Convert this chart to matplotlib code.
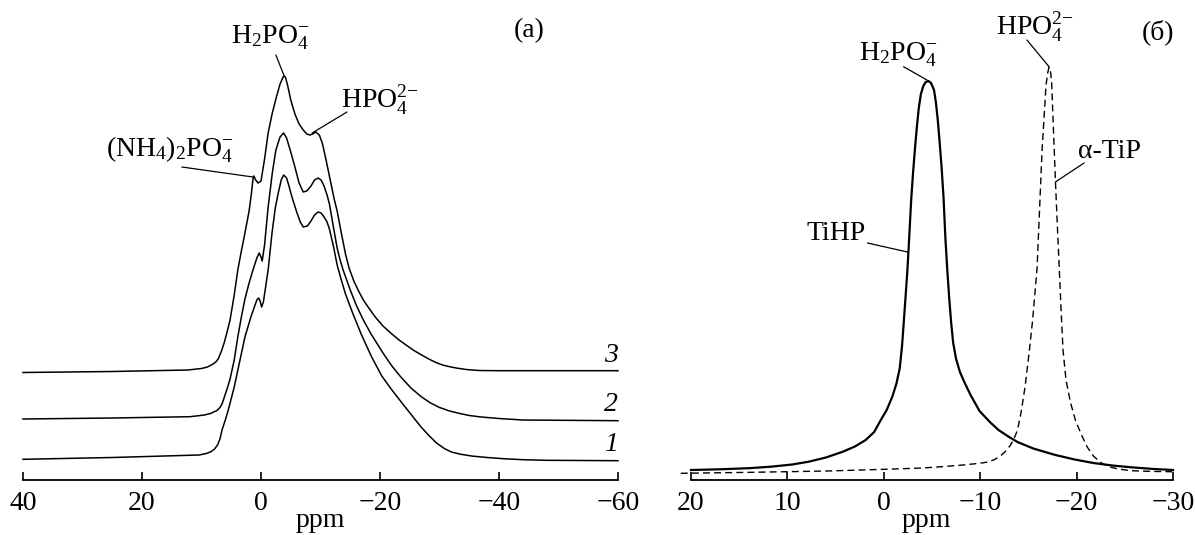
import matplotlib
matplotlib.use("Agg")
import matplotlib.pyplot as plt
import numpy as np

plt.rcParams['font.family'] = ['Liberation Serif', 'DejaVu Serif']
plt.rcParams['mathtext.fontset'] = 'custom'
plt.rcParams['mathtext.rm'] = 'Liberation Serif'
plt.rcParams['mathtext.it'] = 'Liberation Serif:italic'
plt.rcParams['axes.unicode_minus'] = True

# ---------------- Panel (a): stacked 31P spectra 1,2,3 ----------------
a_xticks = [40, 20, 0, -20, -40, -60]
a_offsets = [20, 60, 109]          # vertical offsets of spectra 1, 2, 3
a_labels = ['1', '2', '3']

ppm1 = [40, 25, 10.4, 9.2, 8.4, 7.8, 7.3, 6.9, 6.55, 6.0, 5.5, 4.5, 3.6, 2.7, 1.7,
        1.0, 0.7, 0.4, 0.15, -0.1, -0.4, -0.7, -1.2, -1.85, -2.4, -2.9, -3.4,
        -3.8, -4.3, -4.7, -5.2, -6.0, -6.6, -7.1, -7.8, -8.4, -9.0, -9.6, -10.1,
        -10.6, -11.1, -11.5, -12.2, -12.8, -13.5, -14.2, -15.4, -16.9, -18.6,
        -20.3, -22.0, -23.7, -25.3, -26.9, -28.3, -29.5, -30.8, -32.0, -33.5,
        -35.5, -38.0, -41.0, -44.0, -48.0, -60]
int1 = [0.7, 2.5, 5, 6.5, 8.3, 11, 15, 21, 30, 40, 50, 73, 98, 123, 143,
        155, 160, 162, 159, 153, 158, 170, 190, 227, 252, 267, 280,
        285, 282, 274, 263, 248, 238, 233, 234, 239, 245, 248, 247,
        243, 238, 231, 213, 195, 180, 166, 147, 125, 103,
        84, 70, 57, 45, 33, 24, 17, 11.5, 8, 5.8,
        3.9, 2.5, 1.2, 0.3, -0.3, -0.7]

ppm2 = [40, 25, 11.9, 9.5, 8.5, 7.4, 6.9, 6.55, 6.1, 5.6, 5.2, 4.5, 3.9, 3.3, 2.7,
        2.0, 1.35, 0.7, 0.3, 0.0, -0.2, -0.6, -1.2, -1.9, -2.5, -3.2, -3.8,
        -4.3, -5.0, -5.7, -6.4, -7.1, -7.7, -8.4, -9.0, -9.6, -10.1, -10.6,
        -11.1, -11.5, -12.2, -12.8, -13.3, -13.8, -15.0, -16.0, -17.2, -18.5,
        -20.5, -22.0, -23.5, -25.2, -27.0, -28.5, -30.0, -31.7, -33.4, -35.0,
        -37.0, -40.0, -44.0, -60]
int2 = [1, 2, 3.3, 5, 6.5, 9.5, 12.5, 16, 24, 33, 41, 60, 83, 103, 121,
        137, 150, 162, 167, 163, 159, 175, 213, 247, 270, 283, 287,
        282, 268, 253, 237, 228, 229, 234, 240, 242, 240, 234,
        225, 216, 192, 172, 160, 150, 130, 115, 100, 86,
        67, 54, 43, 32, 23, 17, 12.5, 9, 6.5, 4.5,
        3, 1.5, 0, -0.7]

ppm3 = [40, 25, 12.3, 10.0, 9.0, 8.2, 7.6, 7.2, 6.7, 6.2, 5.7, 5.2, 4.5, 3.9, 3.3,
        2.7, 2.0, 1.6, 1.35, 1.2, 0.9, 0.5, 0.0, -0.6, -1.2, -1.9, -2.5, -3.2,
        -3.8, -4.1, -4.5, -5.0, -5.7, -6.4, -7.1, -7.7, -8.2, -8.7, -9.2, -9.8,
        -10.3, -10.9, -11.6, -12.3, -12.8, -13.5, -14.2, -14.8, -15.6, -16.4,
        -17.2, -18.0, -19.2, -20.5, -21.8, -23.2, -24.5, -25.7, -27.0, -28.2,
        -29.4, -30.5, -31.7, -32.8, -34.5, -36.6, -40.0, -60]
int3 = [-1.5, -0.5, 1, 2.5, 4, 6.5, 9, 12, 19, 28, 39, 51, 76, 101, 120,
        138, 160, 178, 192, 195, 191, 188, 190, 212, 238, 258, 272, 287,
        295, 294, 285, 271, 257, 247, 241, 237, 236, 237, 239, 236,
        228, 212, 192, 172, 160, 138, 117, 103, 90, 80,
        71, 64, 54, 45, 38, 31, 25.5, 20.5, 16, 12,
        8.5, 6, 4.3, 3, 1.5, 0.5, 0.3, 0.3]

# ---------------- Panel (б): TiHP and α-TiP ----------------
b_xticks = [20, 10, 0, -10, -20, -30]

tihp_ppm = [20.0, 17.0, 14.0, 11.72, 9.5, 7.79, 6.0, 4.24, 3.0, 1.88, 1.0, 0.31,
            -0.3, -0.87, -1.3, -1.66, -1.9, -2.05, -2.25, -2.45, -2.65, -2.84,
            -3.04, -3.24, -3.45, -3.63, -3.85, -4.1, -4.35, -4.62, -4.9, -5.21,
            -5.4, -5.6, -5.8, -6.0, -6.2, -6.4, -6.6, -6.8, -7.0, -7.2, -7.5,
            -7.9, -8.35, -9.0, -9.93, -11.0, -11.9, -13.0, -13.87, -15.5, -17.8,
            -19.8, -21.74, -23.7, -25.67, -28.0, -30.0]
tihp_int = [10, 10.7, 11.8, 13.3, 15.5, 18.3, 22.5, 28.3, 33.5, 40, 48, 60,
            70, 83, 96, 112, 135, 155, 182, 210, 245, 280,
            308, 332, 355, 372, 386, 394, 398, 399, 397, 390,
            378, 360, 337, 312, 282, 240, 208, 180, 156, 137, 121,
            108, 98, 85, 69, 58, 50, 43, 38, 31.5, 25,
            20.5, 17, 14.5, 12.7, 11, 10]

atip_ppm = [21.06, 13.69, 5.82, -0.08, -4.0, -6.0, -8.0, -9.93, -10.8, -11.5,
            -12.1, -12.6, -13.08, -13.5, -13.87, -14.25, -14.65, -15.05, -15.44,
            -15.9, -16.42, -16.83, -17.0, -17.14, -17.3, -17.41, -17.6, -17.8,
            -18.0, -18.2, -18.4, -18.59, -18.9, -19.38, -19.9, -20.56, -21.1,
            -21.74, -22.5, -23.32, -24.4, -25.67, -27.7, -29.92]
atip_int = [6.7, 7.7, 9, 10.7, 12, 13.3, 14.8, 16.7, 18, 20.5,
            24, 28.5, 34, 41, 50, 68, 93, 125, 160,
            212, 330, 395, 407, 413, 408, 398, 350, 300,
            255, 212, 168, 130, 100, 77, 59, 44, 33,
            24, 17.5, 13.3, 10.8, 9.3, 8.6, 8.3]

FS = 20
W, H = 1195, 535
fig = plt.figure(figsize=(W / 100, H / 100), dpi=100)

def px_axes(x0, x1, ybot, ytop):
    return fig.add_axes([x0 / W, (H - ybot) / H, (x1 - x0) / W, (ybot - ytop) / H])

def style(ax, ticks):
    for s in ['left', 'right', 'top']:
        ax.spines[s].set_visible(False)
    ax.spines['bottom'].set_linewidth(1.3)
    ax.set_yticks([])
    ax.set_xticks(ticks)
    ax.tick_params(axis='x', direction='in', length=6, width=1.2, pad=8, labelsize=FS)
    ax.set_ylim(0, 480)
    ax.patch.set_alpha(0)

def leader(ax, start, end, lw=0.9):
    ax.annotate('', xy=end, xytext=start,
                arrowprops=dict(arrowstyle='-', lw=lw, color='black', shrinkA=0, shrinkB=0))

# Left panel
axa = px_axes(23, 618, 480, 0)
style(axa, a_xticks)
axa.set_xlim(40, -60)
for p, i, off, lab in zip([ppm1, ppm2, ppm3], [int1, int2, int3], a_offsets, a_labels):
    axa.plot(p, np.array(i) + off, color='black', lw=1.1, clip_on=False,
             solid_joinstyle='round')
    axa.text(-60, off + 3, lab, fontsize=FS, style='italic', ha='right', va='bottom')
axa.set_xlabel('ppm', fontsize=FS, labelpad=-6)

axa.text(-1.5, 442, r'$\mathrm{H_2PO_4^{-}}$', fontsize=FS, ha='center', va='center')
leader(axa, (-2.5, 425), (-3.9, 404))
axa.text(-20, 380, r'$\mathrm{HPO_4^{2{-}}}$', fontsize=FS, ha='center', va='center')
leader(axa, (-14.45, 368), (-8.6, 347))
axa.text(15.3, 330, r'$\mathrm{(NH_4)_2PO_4^{-}}$', fontsize=FS, ha='center', va='center')
leader(axa, (13.3, 313), (1.35, 303))
axa.text(-45, 449, '(a)', fontsize=FS, ha='center', va='center')

# Right panel
axb = px_axes(680, 1173, 480, 0)
style(axb, b_xticks)
axb.set_xlim(21.14, -30)
axb.spines['bottom'].set_bounds(20, -30)
axb.plot(tihp_ppm, tihp_int, color='black', lw=1.6, clip_on=False, solid_joinstyle='round')
axb.plot(atip_ppm, atip_int, color='black', lw=1.0, ls=(0, (5, 3)), clip_on=False)
axb.set_xlabel('ppm', fontsize=FS, labelpad=-6)

axb.text(-1.47, 425, r'$\mathrm{H_2PO_4^{-}}$', fontsize=FS, ha='center', va='center')
leader(axb, (-2.05, 413.3), (-4.48, 400))
axb.text(-15.68, 453, r'$\mathrm{HPO_4^{2{-}}}$', fontsize=FS, ha='center', va='center')
leader(axb, (-14.85, 440), (-17.14, 413.3))
axb.text(-28.44, 448, '(б)', fontsize=FS, ha='center', va='center')
axb.text(-23.46, 329, 'α-TiP', fontsize=FS, ha='center', va='center')
leader(axb, (-20.77, 317), (-17.8, 298))
axb.text(4.96, 246, 'TiHP', fontsize=FS, ha='center', va='center')
leader(axb, (1.69, 237), (-2.45, 228))

fig.savefig('out.png', dpi=100)
